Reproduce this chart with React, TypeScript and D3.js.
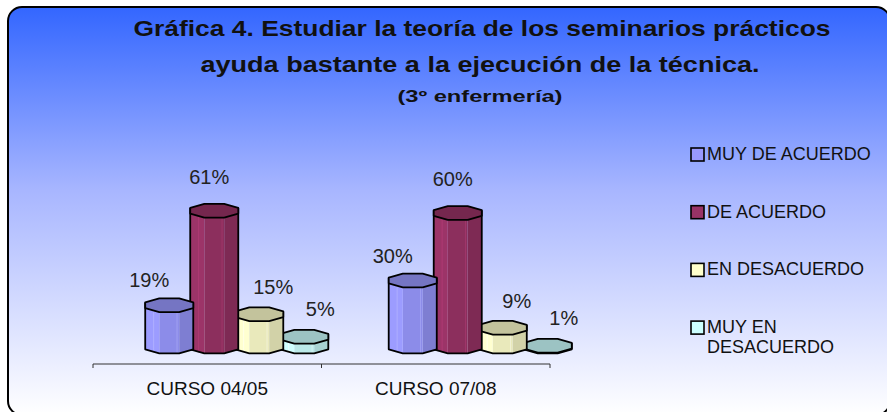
import React from 'react';
import * as d3 from 'd3';

const categories = ['CURSO 04/05', 'CURSO 07/08'];
const seriesNames = ['MUY DE ACUERDO', 'DE ACUERDO', 'EN DESACUERDO', 'MUY EN DESACUERDO'];
const muyDeAcuerdo = [19, 30];
const deAcuerdo = [61, 60];
const enDesacuerdo = [15, 9];
const muyEnDesacuerdo = [5, 1];
const seriesValues = [muyDeAcuerdo, deAcuerdo, enDesacuerdo, muyEnDesacuerdo];
const seriesColors = ['#9999ff', '#993366', '#ffffcc', '#ccffff'];
const titleLines = [
  'Gráfica 4. Estudiar la teoría de los seminarios prácticos',
  'ayuda bastante a la ejecución de la técnica.',
];
const subtitle = '(3º enfermería)';

const W = 887;
const H = 412;
const FONT = 'Liberation Sans, Arial, sans-serif';

// label nudges per series (3D projection of the label anchor)
const labelDx = [-20, -5, 14, 16];
const labelDy = [-18, -27, -20, -21];

const C8 = Math.cos(Math.PI / 8); // 0.924
const S8 = Math.sin(Math.PI / 8); // 0.383

interface PrismProps {
  cx: number;
  yTop: number;
  yBot: number;
  rx: number;
  ry: number;
  color: string;
}

const Prism = ({ cx, yTop, yBot, rx, ry, color }: PrismProps) => {
  const base = d3.color(color)!;
  const angles = d3.range(8).map(k => Math.PI / 8 + (k * Math.PI) / 4);
  const pt = (a: number, cy: number) => [cx + rx * Math.cos(a), cy + ry * Math.sin(a)] as [number, number];
  // front faces: right-front, front, left-front
  const faces = [
    { a0: angles[0], a1: angles[1], fill: base.darker(0.55).toString() },
    { a0: angles[1], a1: angles[2], fill: base.darker(0.25).toString() },
    { a0: angles[2], a1: angles[3], fill: base.brighter(0.05).toString() },
  ];
  const line = d3.line();
  const top = line(angles.map(a => pt(a, yTop)))! + 'Z';
  const outline = line([
    [cx + rx * C8, yTop - ry * S8],
    ...[angles[0], angles[1], angles[2], angles[3]].map(a => pt(a, yBot)),
    [cx - rx * C8, yTop - ry * S8],
  ])!;
  const hl = d3.color(color)!.brighter(0.6).toString();
  return (
    <g>
      {faces.map((f, i) => (
        <path
          key={i}
          d={line([pt(f.a0, yTop), pt(f.a1, yTop), pt(f.a1, yBot), pt(f.a0, yBot)])! + 'Z'}
          fill={f.fill}
          stroke="none"
        />
      ))}
      <line x1={cx - rx * 0.6} x2={cx - rx * 0.6} y1={yTop + ry * 0.8} y2={yBot + ry * 0.8} stroke={hl} strokeWidth={0.8} opacity={0.7} />
      <line x1={cx + rx * 0.3} x2={cx + rx * 0.3} y1={yTop + ry} y2={yBot + ry} stroke={hl} strokeWidth={0.8} opacity={0.5} />
      <path d={outline} fill="none" stroke="#000" strokeWidth={1.8} strokeLinejoin="round" />
      <path d={top} fill={base.darker(0.75).toString()} stroke="#000" strokeWidth={1.8} strokeLinejoin="round" />
    </g>
  );
};

const App = () => {
  // front axis plane
  const xAxis = d3.scaleBand<string>().domain(categories).range([93, 550]).padding(0);
  // bars sit on the projected floor, shifted by the 3D depth
  const xBars = d3.scaleBand<string>().domain(categories).range([115, 602]).padding(0);
  const xInner = d3.scaleBand<string>().domain(seriesNames).range([0, xBars.bandwidth()]).paddingInner(0).paddingOuter(0.705);
  const y = d3.scaleLinear().domain([0, 100]).range([348, 123]);
  const axisY = 364;
  const rx = 26;
  const ry = 7.5;
  const floor = 346.5;

  const bars: { key: string; cx: number; v: number; s: number }[] = [];
  categories.forEach((c, ci) => {
    seriesNames.forEach((s, si) => {
      const cx = (xBars(c) as number) + (xInner(s) as number) + xInner.bandwidth() / 2;
      bars.push({ key: `${ci}-${si}`, cx, v: seriesValues[si][ci], s: si });
    });
  });
  // draw right to left so left bars sit in front
  const drawOrder = [...bars].sort((a, b) => b.cx - a.cx);

  const ticks = [...categories.map(c => xAxis(c) as number), xAxis.range()[1]];

  return (
    <svg width={W} height={H} style={{ position: 'absolute', left: 0, top: 0 }} fontFamily={FONT}>
      <defs>
        <linearGradient id="bg" x1="0" y1="0" x2="0" y2="1">
          <stop offset="0" stopColor="#3366ff" />
          <stop offset="0.45" stopColor="#a8b6ff" />
          <stop offset="1" stopColor="#ffffff" />
        </linearGradient>
      </defs>
      <rect width={W} height={H} fill="#fff" />
      <rect x={8} y={7} width={882} height={408} rx={14} fill="url(#bg)" stroke="#000" strokeWidth={2} />

      <g fill="#111" fontWeight="bold" textAnchor="middle">
        <text x={482} y={36} fontSize={22} textLength={697} lengthAdjust="spacingAndGlyphs">{titleLines[0]}</text>
        <text x={480} y={72} fontSize={22} textLength={559} lengthAdjust="spacingAndGlyphs">{titleLines[1]}</text>
        <text x={480} y={102} fontSize={16} textLength={165} lengthAdjust="spacingAndGlyphs">{subtitle}</text>
      </g>

      {/* category axis */}
      <g stroke="#333" strokeWidth={1}>
        <line x1={xAxis.range()[0]} x2={xAxis.range()[1]} y1={axisY} y2={axisY} />
        {ticks.map((t, i) => (
          <line key={i} x1={t} x2={t} y1={axisY} y2={axisY + 4} />
        ))}
      </g>
      {categories.map(c => (
        <text key={c} x={(xAxis(c) as number) + xAxis.bandwidth() / 2} y={395} fontSize={19} textAnchor="middle" fill="#111">
          {c}
        </text>
      ))}

      {drawOrder.map(b => (
        <Prism key={b.key} cx={b.cx} yTop={y(b.v)} yBot={floor} rx={rx} ry={ry} color={seriesColors[b.s]} />
      ))}

      {bars.map(b => (
        <text key={'l' + b.key} x={b.cx + labelDx[b.s]} y={y(b.v) + labelDy[b.s]} fontSize={20} textAnchor="middle" fill="#222">
          {b.v}%
        </text>
      ))}

      {/* legend */}
      {seriesNames.map((s, i) => {
        const by = 160 + i * 57.7;
        const words = s === 'MUY EN DESACUERDO' ? ['MUY EN', 'DESACUERDO'] : [s];
        return (
          <g key={s}>
            <rect x={691} y={by - 12} width={13} height={13} fill={seriesColors[i]} stroke="#000" strokeWidth={1.6} />
            <text x={707} y={by} fontSize={18} fill="#111">
              {words.map((w, j) => (
                <tspan key={j} x={707} dy={j === 0 ? 0 : 20}>{w}</tspan>
              ))}
            </text>
          </g>
        );
      })}
    </svg>
  );
};

export default App;
